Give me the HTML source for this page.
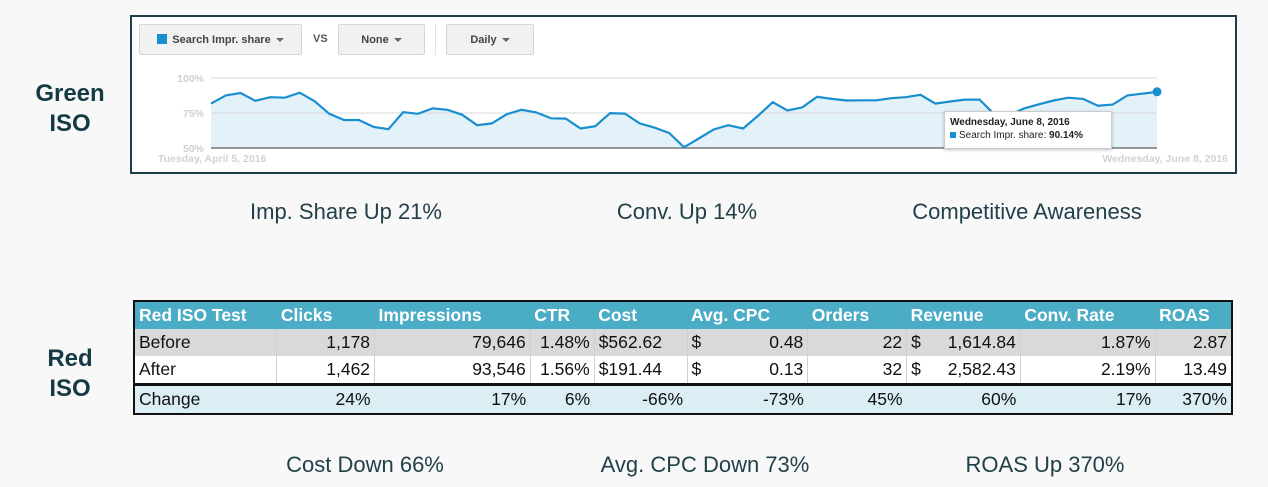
<!DOCTYPE html>
<html><head><meta charset="utf-8">
<style>
body{margin:0;width:1268px;height:487px;background:#f8f8f8;position:relative;overflow:hidden;font-family:"Liberation Sans",sans-serif;color:#1c3a44}
.abs{position:absolute}
.side{position:absolute;width:140px;text-align:center;font-weight:bold;font-size:24px;line-height:30px;color:#163a44}
.cap{position:absolute;font-size:22px;transform:translateX(-50%);white-space:nowrap;color:#22404a}
.frame{position:absolute;left:130px;top:15px;width:1103px;height:155px;border:2px solid #1d3f48;background:#fff}
.btn{position:absolute;top:24px;height:31px;background:#f1f1f1;border:1px solid #d6d6d6;border-radius:2px;font-size:11px;font-weight:bold;color:#444;line-height:31px;text-align:center;box-sizing:border-box}
.caret{display:inline-block;border-left:4px solid transparent;border-right:4px solid transparent;border-top:4px solid #666;vertical-align:middle;margin-left:5px}
table{position:absolute;left:133px;top:300px;width:1100px;border-collapse:collapse;font-size:17.5px;border:2px solid #111}
td{height:27px;padding:0 4px;white-space:nowrap;border-left:1px solid #c6d3d8}
tr.h td{background:#4bacc6;color:#fff;font-weight:bold;border-left:none}
tr.b td{background:#d9d9d9;color:#111}
tr.a td{background:#fff;color:#111}
tr.c td{background:#daeef3;color:#111;border-top:3px solid #111}
.r{text-align:right}
</style></head><body>
<div class="side" style="left:0;top:79px">Green<br>ISO</div>
<div class="side" style="left:0;top:344px">Red<br>ISO</div>

<div class="frame"></div>
<div class="btn" style="left:139px;width:163px"><span style="display:inline-block;width:10px;height:10px;background:#1a8fd0;vertical-align:-1px;margin-right:5px"></span>Search Impr. share<span class="caret"></span></div>
<div class="abs" style="left:313px;top:33px;font-size:11px;font-weight:bold;color:#555">VS</div>
<div class="btn" style="left:338px;width:87px">None<span class="caret"></span></div>
<div class="abs" style="left:435px;top:24px;width:1px;height:31px;background:#e4e4e4"></div>
<div class="btn" style="left:446px;width:88px">Daily<span class="caret"></span></div>

<svg id="chart" class="abs" style="left:0;top:0" width="1268" height="180"></svg>

<div class="abs" style="left:944px;top:111px;width:168px;height:38px;background:#fff;border:1px solid #ccc;box-shadow:0 1px 3px rgba(0,0,0,.25);font-size:10px;color:#222;box-sizing:border-box;padding:4px 0 0 5px;line-height:13px">
<b>Wednesday, June 8, 2016</b><br><span style="display:inline-block;width:6px;height:6px;background:#1a8fd0;margin-right:3px"></span>Search Impr. share: <b>90.14%</b></div>

<div class="cap" style="left:346px;top:199px">Imp. Share Up 21%</div>
<div class="cap" style="left:687px;top:199px">Conv. Up 14%</div>
<div class="cap" style="left:1027px;top:199px">Competitive Awareness</div>

<table>
<colgroup><col style="width:143px"><col style="width:98px"><col style="width:156px"><col style="width:64px"><col style="width:93px"><col style="width:121px"><col style="width:99px"><col style="width:114px"><col style="width:135px"><col style="width:77px"></colgroup>
<tr class="h"><td>Red ISO Test</td><td>Clicks</td><td>Impressions</td><td>CTR</td><td>Cost</td><td>Avg. CPC</td><td>Orders</td><td>Revenue</td><td>Conv. Rate</td><td>ROAS</td></tr>
<tr class="b"><td>Before</td><td class="r">1,178</td><td class="r">79,646</td><td class="r">1.48%</td><td>$562.62</td><td><span style="float:left">$</span><span style="float:right">0.48</span></td><td class="r">22</td><td><span style="float:left">$</span><span style="float:right">1,614.84</span></td><td class="r">1.87%</td><td class="r">2.87</td></tr>
<tr class="a"><td>After</td><td class="r">1,462</td><td class="r">93,546</td><td class="r">1.56%</td><td>$191.44</td><td><span style="float:left">$</span><span style="float:right">0.13</span></td><td class="r">32</td><td><span style="float:left">$</span><span style="float:right">2,582.43</span></td><td class="r">2.19%</td><td class="r">13.49</td></tr>
<tr class="c"><td style="border-left:none">Change</td><td class="r" style="border-left:none">24%</td><td class="r" style="border-left:none">17%</td><td class="r" style="border-left:none">6%</td><td class="r" style="border-left:none">-66%</td><td class="r" style="border-left:none">-73%</td><td class="r" style="border-left:none">45%</td><td class="r" style="border-left:none">60%</td><td class="r" style="border-left:none">17%</td><td class="r" style="border-left:none">370%</td></tr>
</table>

<div class="cap" style="left:365px;top:452px">Cost Down 66%</div>
<div class="cap" style="left:705px;top:452px">Avg. CPC Down 73%</div>
<div class="cap" style="left:1045px;top:452px">ROAS Up 370%</div>

<script>
const yTicks=[50,75,100];
const tickLabels=["50%","75%","100%"];
const dateLabels=["Tuesday, April 5, 2016","Wednesday, June 8, 2016"];
const values=[81.7,87.6,89.3,83.7,86.3,85.9,89.5,83.4,74.4,70,70,65.1,63.4,75.6,74.4,78.3,77.3,73.7,66.3,67.6,74.1,77.3,75.4,71.2,71,63.9,65.6,74.9,74.6,67.6,64.6,60.7,50.5,56.8,63.2,66.3,63.9,72.9,82.7,76.8,79,86.6,85.1,83.9,84.1,84.1,85.6,86.3,88,81.7,83.2,84.6,84.6,74,73,78.3,81.2,83.9,85.9,85.1,80.2,81,87.6,88.8,90.14];
const NS="http://www.w3.org/2000/svg";
const svg=document.getElementById('chart');
const X0=211,X1=1157,Y0=148,Y1=78;
const xs=i=>X0+(X1-X0)*i/(values.length-1);
const ys=v=>Y0-(v-50)/50*(Y0-Y1);
function mk(t,a){const e=document.createElementNS(NS,t);for(const k in a)e.setAttribute(k,a[k]);svg.appendChild(e);return e;}
yTicks.forEach((t,i)=>{
 const g=mk('line',{x1:X0,x2:X1,y1:ys(t),y2:ys(t),stroke:i==0?'#777':'#d9d9d9','stroke-width':i==0?1.5:1});
 
 
 const l=mk('text',{x:204,y:ys(t)+4,'text-anchor':'end','font-size':'10.5','font-weight':'bold',fill:'#cfcfcf','font-family':'Liberation Sans, sans-serif'});
 l.textContent=tickLabels[i];
 
 
});
let pts=values.map((v,i)=>xs(i).toFixed(1)+','+ys(v).toFixed(1)).join(' ');
const area=mk('polygon',{points:X0+','+Y0+' '+pts+' '+X1+','+Y0,fill:'#e3f1f8'});


svg.insertBefore(area,svg.firstChild);
const line=mk('polyline',{points:pts,fill:'none',stroke:'#1a8fd0','stroke-width':2.2});


const last=values.length-1;
const dot=mk('circle',{cx:xs(last),cy:ys(values[last]),r:4.5,fill:'#1a8fd0'});


const d1=mk('text',{x:158,y:162,'font-size':'10.5','font-weight':'bold',fill:'#d2d2d2','font-family':'Liberation Sans, sans-serif'});
d1.textContent=dateLabels[0];


const d2=mk('text',{x:1228,y:162,'text-anchor':'end','font-size':'10.5','font-weight':'bold',fill:'#d2d2d2','font-family':'Liberation Sans, sans-serif'});
d2.textContent=dateLabels[1];


</script>
</body></html>
